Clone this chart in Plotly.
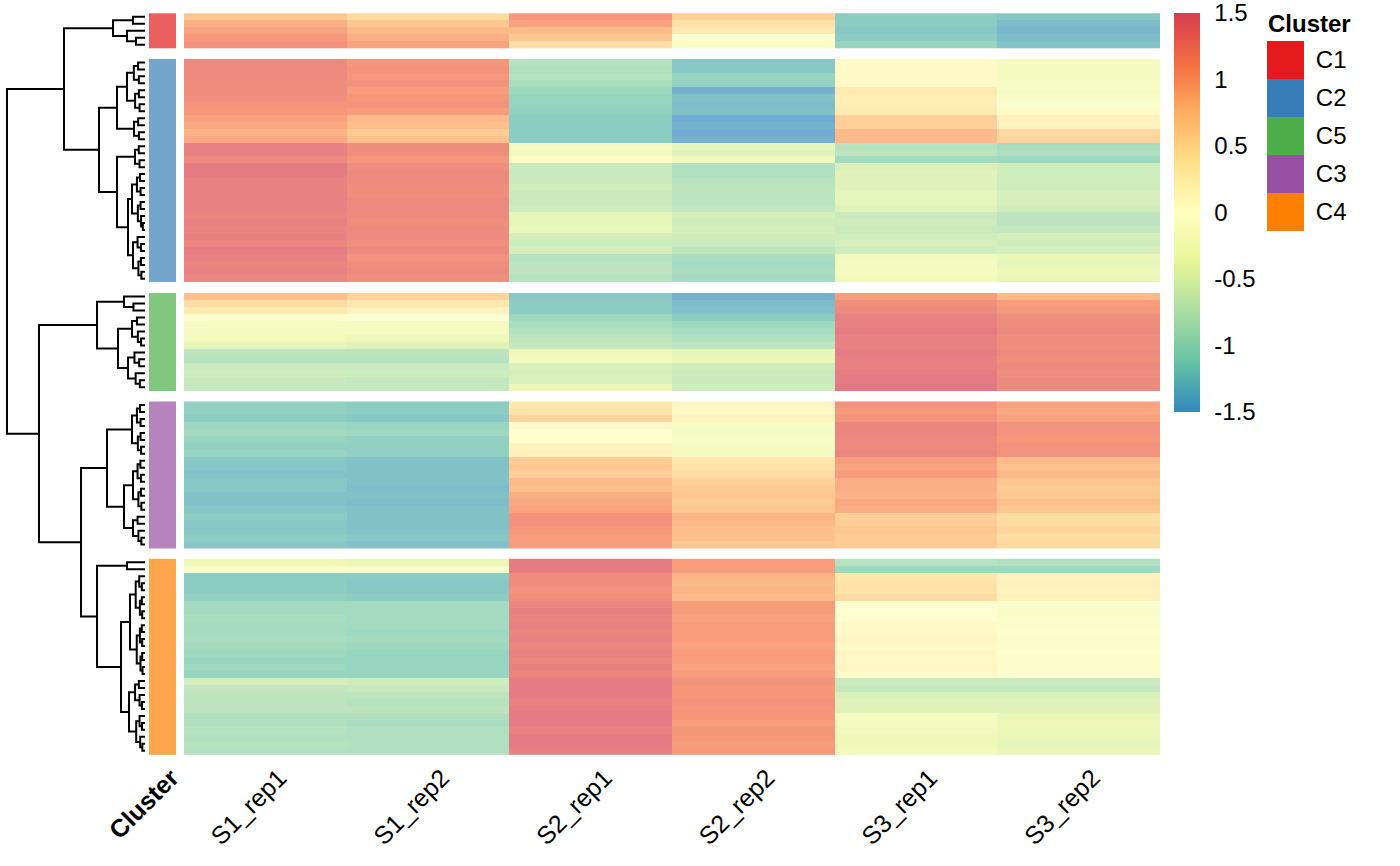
import plotly.graph_objects as go

# ---------------- data ----------------
SAMPLES = ["S1_rep1", "S1_rep2", "S2_rep1", "S2_rep2", "S3_rep1", "S3_rep2"]
CLUSTER_ORDER = ["C1", "C2", "C5", "C3", "C4"]
CLUSTER_COLORS = {"C1": "#E41A1C", "C2": "#377EB8", "C3": "#984EA3", "C4": "#FF7F00", "C5": "#4DAF4A"}
LEGEND_ORDER = ["C1", "C2", "C5", "C3", "C4"]
CBAR_TICKS = [-1.4999, -1, -0.5, 0, 0.5, 1, 1.4999]
CBAR_TEXT = ["-1.5", "-1", "-0.5", "0", "0.5", "1", "1.5"]

C1_VALUES = [
    [0.75, 0.55, 1.15, 0.65, -1.2, -1.25],
    [0.95, 0.75, 1.05, 0.45, -1.2, -1.35],
    [1.05, 0.85, 0.85, 0.35, -1.25, -1.4],
    [1.15, 0.95, 0.75, 0.0, -1.2, -1.35],
    [1.2, 1.05, 0.5, -0.15, -1.1, -1.3],
]
C2_VALUES = [
    [1.3, 1.15, -0.85, -1.25, 0.1, -0.25],
    [1.3, 1.2, -0.9, -1.25, 0.1, -0.25],
    [1.3, 1.15, -0.85, -1.1, 0.1, -0.25],
    [1.25, 1.2, -0.95, -1.15, 0.1, -0.2],
    [1.25, 1.1, -1.05, -1.45, 0.35, -0.2],
    [1.25, 1.15, -1.1, -1.3, 0.3, -0.15],
    [1.2, 1.2, -1.1, -1.35, 0.3, -0.1],
    [1.15, 1.1, -1.15, -1.3, 0.35, 0.1],
    [1.05, 0.85, -1.2, -1.5, 0.65, 0.25],
    [1.0, 0.8, -1.2, -1.45, 0.65, 0.2],
    [0.9, 0.7, -1.2, -1.55, 0.85, 0.55],
    [1.0, 0.8, -1.2, -1.45, 0.85, 0.6],
    [1.4, 1.25, -0.25, -0.45, -0.85, -0.95],
    [1.4, 1.25, -0.3, -0.5, -0.8, -0.9],
    [1.3, 1.15, 0.1, -0.3, -1.0, -1.05],
    [1.45, 1.25, -0.7, -0.9, -0.55, -0.65],
    [1.45, 1.3, -0.7, -0.9, -0.5, -0.65],
    [1.4, 1.3, -0.7, -0.85, -0.5, -0.65],
    [1.4, 1.25, -0.65, -0.8, -0.5, -0.65],
    [1.4, 1.25, -0.7, -0.8, -0.45, -0.6],
    [1.4, 1.3, -0.7, -0.8, -0.45, -0.6],
    [1.4, 1.3, -0.65, -0.75, -0.5, -0.65],
    [1.35, 1.3, -0.45, -0.6, -0.7, -0.8],
    [1.4, 1.25, -0.45, -0.65, -0.65, -0.8],
    [1.35, 1.3, -0.4, -0.6, -0.7, -0.75],
    [1.4, 1.3, -0.6, -0.65, -0.65, -0.6],
    [1.35, 1.25, -0.65, -0.7, -0.6, -0.65],
    [1.45, 1.3, -0.6, -0.8, -0.65, -0.6],
    [1.4, 1.2, -0.85, -0.95, -0.3, -0.4],
    [1.35, 1.25, -0.8, -1.0, -0.25, -0.45],
    [1.4, 1.3, -0.8, -0.95, -0.25, -0.35],
    [1.35, 1.25, -0.85, -1.0, -0.3, -0.4],
]
C5_VALUES = [
    [0.8, 0.6, -1.25, -1.45, 1.1, 0.85],
    [0.5, 0.4, -1.2, -1.35, 1.25, 1.1],
    [0.35, 0.2, -1.2, -1.3, 1.3, 1.15],
    [0.05, 0.0, -1.05, -1.2, 1.4, 1.25],
    [-0.2, -0.25, -0.95, -1.05, 1.4, 1.25],
    [-0.25, -0.25, -0.85, -0.95, 1.45, 1.3],
    [-0.3, -0.35, -0.8, -0.9, 1.4, 1.25],
    [-0.45, -0.5, -0.75, -0.8, 1.4, 1.25],
    [-0.8, -0.8, -0.35, -0.45, 1.45, 1.3],
    [-0.85, -0.85, -0.25, -0.4, 1.4, 1.25],
    [-0.7, -0.7, -0.55, -0.65, 1.4, 1.3],
    [-0.65, -0.65, -0.6, -0.7, 1.45, 1.25],
    [-0.7, -0.75, -0.55, -0.7, 1.45, 1.3],
    [-0.75, -0.75, -0.35, -0.65, 1.5, 1.3],
]
C3_VALUES = [
    [-1.15, -1.2, 0.4, 0.15, 1.2, 1.05],
    [-1.15, -1.2, 0.45, 0.1, 1.15, 1.0],
    [-1.2, -1.25, 0.6, 0.2, 1.2, 1.05],
    [-1.05, -1.1, 0.1, -0.15, 1.35, 1.2],
    [-1.0, -1.05, 0.0, -0.2, 1.35, 1.2],
    [-1.1, -1.15, 0.05, -0.15, 1.3, 1.15],
    [-1.15, -1.15, 0.2, -0.2, 1.3, 1.2],
    [-1.1, -1.15, 0.25, -0.25, 1.35, 1.2],
    [-1.25, -1.3, 0.7, 0.4, 1.1, 0.85],
    [-1.25, -1.3, 0.75, 0.45, 1.05, 0.8],
    [-1.3, -1.3, 0.65, 0.5, 1.1, 0.85],
    [-1.25, -1.3, 0.85, 0.65, 0.95, 0.75],
    [-1.25, -1.35, 0.8, 0.7, 0.95, 0.7],
    [-1.3, -1.3, 0.95, 0.75, 0.9, 0.75],
    [-1.3, -1.35, 1.0, 0.7, 1.0, 0.8],
    [-1.25, -1.3, 1.05, 0.75, 0.95, 0.75],
    [-1.2, -1.3, 1.2, 0.9, 0.65, 0.5],
    [-1.25, -1.3, 1.2, 0.85, 0.7, 0.55],
    [-1.25, -1.3, 1.15, 0.8, 0.75, 0.6],
    [-1.2, -1.25, 1.1, 0.8, 0.7, 0.5],
    [-1.25, -1.3, 1.1, 0.75, 0.7, 0.55],
]
C4_VALUES = [
    [-0.35, -0.4, 1.45, 1.1, -0.85, -0.9],
    [-0.1, -0.15, 1.45, 1.1, -1.05, -1.05],
    [-1.2, -1.2, 1.25, 0.9, 0.4, 0.2],
    [-1.2, -1.25, 1.25, 0.85, 0.45, 0.25],
    [-1.2, -1.25, 1.2, 0.9, 0.45, 0.2],
    [-1.15, -1.2, 1.25, 0.85, 0.55, 0.25],
    [-1.0, -1.0, 1.35, 1.1, 0.05, -0.1],
    [-1.0, -1.0, 1.4, 1.1, 0.0, -0.15],
    [-0.95, -1.0, 1.35, 1.05, 0.05, -0.1],
    [-1.0, -1.0, 1.4, 1.1, 0.1, -0.1],
    [-1.0, -1.05, 1.35, 1.1, 0.1, -0.05],
    [-0.95, -1.0, 1.4, 1.1, 0.15, -0.1],
    [-1.0, -1.05, 1.35, 1.05, 0.1, -0.1],
    [-1.05, -1.1, 1.4, 1.1, 0.15, -0.05],
    [-1.1, -1.1, 1.35, 1.1, 0.1, -0.1],
    [-1.05, -1.1, 1.4, 1.05, 0.15, -0.1],
    [-1.1, -1.1, 1.35, 1.1, 0.1, -0.05],
    [-0.6, -0.65, 1.45, 1.2, -0.7, -0.7],
    [-0.75, -0.7, 1.45, 1.15, -0.75, -0.75],
    [-0.8, -0.8, 1.45, 1.15, -0.55, -0.55],
    [-0.8, -0.85, 1.4, 1.2, -0.5, -0.5],
    [-0.8, -0.8, 1.45, 1.15, -0.5, -0.5],
    [-0.9, -0.9, 1.45, 1.15, -0.25, -0.4],
    [-0.9, -0.95, 1.45, 1.1, -0.25, -0.35],
    [-0.85, -0.9, 1.4, 1.15, -0.3, -0.4],
    [-0.9, -0.9, 1.45, 1.15, -0.35, -0.4],
    [-0.85, -0.9, 1.45, 1.1, -0.35, -0.45],
    [-0.9, -0.9, 1.4, 1.15, -0.3, -0.4],
]
CLUSTER_VALUES = {"C1": C1_VALUES, "C2": C2_VALUES, "C5": C5_VALUES, "C3": C3_VALUES, "C4": C4_VALUES}

# dendrogram merge heights (distance units) for the main branches
ROOT_H, C1C2_H, LOWER_H, C3C4_H = 138, 81, 106, 64

# ---------------- layout constants (pixels) ----------------
W, H = 1400, 866
TOP, BOTTOM, GAP = 13.3, 754.3, 10.7
HM_X0, HM_X1 = 184, 1160
ANN_X0, ANN_X1 = 149, 176
DEN_X1 = 145
FONT = "Liberation Sans, Arial, sans-serif"
FS = 24
ALPHA = 0.7

SPECTRAL = ["#3288BD", "#66C2A5", "#ABDDA4", "#E6F598", "#FFFFBF",
            "#FEE08B", "#FDAE61", "#F46D43", "#D53E4F"]


def fade(hexc, a=ALPHA):
    h = hexc.lstrip("#")
    r, g, b = (int(h[i:i + 2], 16) for i in (0, 2, 4))
    f = lambda c: round(a * c + (1 - a) * 255)
    return f"rgb({f(r)},{f(g)},{f(b)})"


n_stops = len(SPECTRAL) - 1
full_scale = [[i / n_stops, c] for i, c in enumerate(SPECTRAL)]
faded_scale = [[i / n_stops, fade(c)] for i, c in enumerate(SPECTRAL)]

# row positions
n_rows = sum(len(CLUSTER_VALUES[k]) for k in CLUSTER_ORDER)
row_h = (BOTTOM - TOP - GAP * (len(CLUSTER_ORDER) - 1)) / n_rows
centers = {}
row_center = []
cur = TOP
for k in CLUSTER_ORDER:
    cs = []
    for _ in CLUSTER_VALUES[k]:
        cs.append(cur + row_h / 2)
        cur += row_h
    centers[k] = cs
    row_center.extend(cs)
    cur += GAP

fig = go.Figure()

# heatmap slices + annotation column
for k in CLUSTER_ORDER:
    fig.add_trace(go.Heatmap(
        z=CLUSTER_VALUES[k], x=SAMPLES, y=centers[k],
        colorscale=faded_scale, zmin=-1.5, zmax=1.5, showscale=False,
        xaxis="x", yaxis="y", hoverinfo="skip"))
    fig.add_trace(go.Heatmap(
        z=[[1] for _ in CLUSTER_VALUES[k]], x=["Cluster"], y=centers[k],
        colorscale=[[0, fade(CLUSTER_COLORS[k])], [1, fade(CLUSTER_COLORS[k])]],
        showscale=False, xaxis="x2", yaxis="y", hoverinfo="skip"))

# colour bar (full-strength colours)
fig.add_trace(go.Scatter(
    x=[SAMPLES[0]], y=[-100], mode="markers", xaxis="x", yaxis="y",
    marker=dict(color=[0], colorscale=full_scale, cmin=-1.5, cmax=1.5, size=1,
                showscale=True,
                colorbar=dict(
                    x=1174 / W, xanchor="left", y=1 - 13 / H, yanchor="top",
                    lenmode="pixels", len=399, thickness=26,
                    thicknessmode="pixels", outlinewidth=0, xpad=0, ypad=0,
                    tickmode="array", tickvals=CBAR_TICKS, ticktext=CBAR_TEXT,
                    ticklabeloverflow="allow",
                    ticks="outside", ticklen=10, tickcolor="rgba(0,0,0,0)",
                    tickfont=dict(family=FONT, size=FS, color="black"))),
    showlegend=False, hoverinfo="skip"))

# ---------------- dendrogram ----------------
offs = {}
o = 0
for k in CLUSTER_ORDER:
    offs[k] = o
    o += len(CLUSTER_VALUES[k])


def fan(leaves, h):
    if len(leaves) == 1:
        return leaves[0]
    m = len(leaves) // 2
    return [h, fan(leaves[:m], h * 0.62), fan(leaves[m:], h * 0.55)]


def rng(k, a, b):
    return list(range(offs[k] + a, offs[k] + b))


t_c1 = [32, fan(rng("C1", 0, 2), 12), [18, rng("C1", 2, 3)[0], fan(rng("C1", 3, 5), 9)]]
t_c2 = [46,
        [28, fan(rng("C2", 0, 8), 18), fan(rng("C2", 8, 12), 11)],
        [28, fan(rng("C2", 12, 16), 10),
         [17, fan(rng("C2", 16, 25), 13), fan(rng("C2", 25, 32), 12)]]]
t_c5 = [48, fan(rng("C5", 0, 3), 21),
        [27, fan(rng("C5", 3, 8), 13), fan(rng("C5", 8, 14), 17)]]
t_c3 = [38, fan(rng("C3", 0, 8), 13),
        [21, fan(rng("C3", 8, 16), 12), fan(rng("C3", 16, 21), 12)]]
t_c4 = [48, fan(rng("C4", 0, 2), 18),
        [24, fan(rng("C4", 2, 17), 15), fan(rng("C4", 17, 28), 16)]]
tree = [ROOT_H, [C1C2_H, t_c1, t_c2], [LOWER_H, t_c5, [C3C4_H, t_c3, t_c4]]]

dx, dy = [], []


def walk(node):
    if isinstance(node, int):
        return row_center[node], 0
    h, a, b = node
    ya, ha = walk(a)
    yb, hb = walk(b)
    dx.extend([ha, h, h, hb, None])
    dy.extend([ya, ya, yb, yb, None])
    return (ya + yb) / 2, h


walk(tree)
fig.add_trace(go.Scatter(x=dx, y=dy, mode="lines", xaxis="x3", yaxis="y",
                         line=dict(color="black", width=2), hoverinfo="skip",
                         showlegend=False))

# ---------------- legend (Cluster) ----------------
fig.add_trace(go.Heatmap(
    z=[[i] for i in range(len(LEGEND_ORDER))], x=["legend"], y=LEGEND_ORDER,
    colorscale=[[i / (len(LEGEND_ORDER) - 1), CLUSTER_COLORS[k]] for i, k in enumerate(LEGEND_ORDER)],
    showscale=False, xaxis="x4", yaxis="y2", hoverinfo="skip"))

fig.add_annotation(text="<b>Cluster</b>", x=1266 / W, y=1 - 23 / H, xref="paper", yref="paper",
                   xanchor="left", yanchor="middle", showarrow=False,
                   font=dict(family=FONT, size=FS, color="black"))

axis_pos = 1 - (BOTTOM + 1) / H
hidden = dict(showgrid=False, zeroline=False, showline=False, showticklabels=False,
              ticks="", automargin=False)
fig.update_layout(
    width=W, height=H, margin=dict(l=0, r=0, t=0, b=0, autoexpand=False),
    paper_bgcolor="white", plot_bgcolor="white", showlegend=False,
    xaxis=dict(domain=[HM_X0 / W, HM_X1 / W], anchor="free", position=axis_pos,
               type="category", categoryorder="array", categoryarray=SAMPLES,
               range=[-0.5, len(SAMPLES) - 0.5], automargin=False,
               tickangle=-45, ticklabelshift=14, ticklabelstandoff=2,
               showgrid=False, zeroline=False, showline=False, ticks="",
               tickfont=dict(family=FONT, size=25, color="black")),
    xaxis2=dict(domain=[ANN_X0 / W, ANN_X1 / W], anchor="free", position=axis_pos,
                type="category", range=[-0.5, 0.5], automargin=False,
                tickangle=-45, ticklabelshift=9, ticklabelstandoff=2,
                showgrid=False, zeroline=False,
                showline=False, ticks="", tickvals=["Cluster"], ticktext=["<b>Cluster</b>"],
                tickfont=dict(family=FONT, size=25, color="black")),
    xaxis3=dict(domain=[0, DEN_X1 / W], anchor="y", range=[DEN_X1, 0], **hidden),
    yaxis=dict(domain=[0, 1], range=[H, 0], **hidden),
    xaxis4=dict(domain=[1267 / W, 1304 / W], anchor="y2", range=[-0.5, 0.5], **hidden),
    yaxis2=dict(domain=[1 - 231 / H, 1 - 41 / H], anchor="x4", side="right",
                type="category", autorange="reversed", showgrid=False, zeroline=False,
                showline=False, ticks="outside", ticklen=6, tickcolor="rgba(0,0,0,0)",
                automargin=False,
                tickfont=dict(family=FONT, size=FS, color="black")),
)

fig.write_html("out.html", config={"displayModeBar": False},
               post_script="document.body.style.margin='0';")
